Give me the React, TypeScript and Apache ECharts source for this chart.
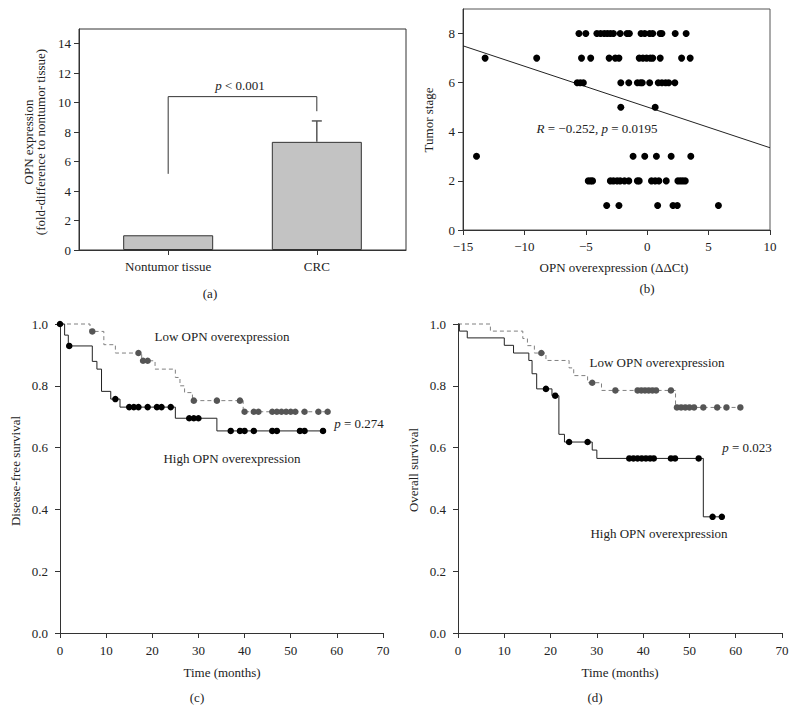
import React, { useEffect, useRef } from 'react';
import * as echarts from 'echarts';

const FONT = '"Liberation Serif", "DejaVu Serif", "Times New Roman", serif';

// ---------- Panel (a): bar chart ----------
const barCategories = ['Nontumor tissue', 'CRC'];
const barValues = [1.0, 7.34];
const barErrorTop = [1.0, 8.76];
const barYTicks = [0, 2, 4, 6, 8, 10, 12, 14];
const bracketX = [0, 0, 1, 1];
const bracketY = [5.17, 10.41, 10.41, 9.42];

// ---------- Panel (b): scatter ----------
const stage8X = [-5.56, -5.0, -4.1, -3.8, -3.5, -3.25, -3.0, -2.75, -2.2, -1.65, -1.45, -0.5, -0.2, 0.2, 0.45, 1.05, 1.2, 2.28, 3.17];
const stage7X = [-13.2, -9.0, -5.35, -4.6, -3.1, -2.6, -2.3, -0.65, -0.35, -0.05, 0.25, 0.45, 1.06, 2.8, 3.5];
const stage6X = [-5.7, -5.45, -5.2, -2.15, -1.5, -0.8, -0.55, -0.4, 0.2, 0.9, 1.2, 1.5, 1.75, 2.25];
const stage5X = [-2.15, 0.65];
const stage3X = [-13.9, -1.15, -0.2, 0.75, 1.95, 3.55];
const stage2X = [-4.8, -4.6, -4.45, -3.0, -2.75, -2.45, -2.2, -1.85, -1.5, -0.8, -0.65, 0.35, 0.65, 0.95, 1.55, 2.5, 2.7, 2.9, 3.1];
const stage1X = [-3.3, -2.3, 0.85, 2.1, 2.45, 5.8];
const stageRows: [number, number[]][] = [[8, stage8X], [7, stage7X], [6, stage6X], [5, stage5X], [3, stage3X], [2, stage2X], [1, stage1X]];
const regressionX = [-15, 10];
const regressionY = [7.5, 3.35];
const stageTicks = [0, 2, 4, 6, 8];

// ---------- Panel (c): disease-free survival ----------
const dfsHighSteps: [number, number][] = [[0, 1], [1, 0.964], [1.8, 0.929], [7, 0.879], [8, 0.854], [9, 0.782], [11, 0.757], [13, 0.731], [25, 0.695], [34, 0.654]];
const dfsHighCensor = [0, 2, 12, 15, 16, 17, 19, 21, 22, 24, 28, 29, 30, 37, 39, 40, 42, 46, 47, 52, 53, 57];
const dfsLowSteps: [number, number][] = [[0, 1], [6.5, 0.976], [9.5, 0.933], [12, 0.906], [17.7, 0.881], [20.6, 0.854], [25, 0.827], [26, 0.8], [27, 0.778], [28.7, 0.752], [39.7, 0.716]];
const dfsLowCensor = [7, 17, 18, 19, 29, 34, 39, 40, 42, 43, 46, 47, 48, 49, 50, 51, 53, 56, 58];

// ---------- Panel (d): overall survival ----------
const osHighSteps: [number, number][] = [[0, 1], [0.3, 0.977], [2, 0.955], [10, 0.931], [12, 0.906], [15.3, 0.882], [16, 0.839], [17, 0.79], [20.3, 0.768], [21.8, 0.643], [23, 0.618], [29, 0.592], [30, 0.565], [53, 0.376]];
const osHighCensor = [19, 21, 24, 28, 37, 37.9, 38.8, 39.7, 40.6, 41.5, 42.3, 46, 46.9, 52, 55, 57];
const osLowSteps: [number, number][] = [[0, 1], [7, 0.977], [14, 0.953], [15, 0.93], [16.5, 0.906], [19, 0.882], [24, 0.858], [25, 0.833], [28, 0.81], [31, 0.785], [47, 0.73]];
const osLowCensor = [18, 29, 34, 38.8, 39.6, 40.4, 41.2, 42, 42.8, 46, 47.3, 48.2, 49.1, 50, 51, 53, 56, 58, 61];

const survivalAt = (steps: [number, number][], t: number) => {
  let s = steps[0][1];
  for (const [time, v] of steps) if (time <= t) s = v;
  return s;
};
const stepLine = (steps: [number, number][], censor: number[]) => {
  const last = Math.max(...censor);
  return [...steps, [last, survivalAt(steps, last)]];
};
const censorPts = (steps: [number, number][], censor: number[]) => censor.map((t) => [t, survivalAt(steps, t)]);

const DARK = '#222';
const AXIS = '#333';
const GRAYLINE = '#808080';
const GRAYDOT = '#555';

const labelStyle = { fontFamily: FONT, fontSize: 13, color: DARK };

const txt = (x: number, y: number, text: string, rotation = 0) => ({
  type: 'text',
  x,
  y,
  rotation,
  silent: true,
  style: {
    text,
    fill: DARK,
    fontFamily: FONT,
    fontSize: 13,
    lineHeight: 12,
    align: 'center',
    verticalAlign: 'middle',
    rich: { i: { fontStyle: 'italic', fontFamily: FONT, fontSize: 13, fill: DARK } },
  },
});

const kmXAxis = (gridIndex: number) => ({
  gridIndex,
  type: 'value',
  min: 0,
  max: 70,
  interval: 10,
  splitLine: { show: false },
  axisLine: { show: true, onZero: false, lineStyle: { color: AXIS, width: 1 } },
  axisTick: { show: true, length: 5, lineStyle: { color: AXIS } },
  axisLabel: { ...labelStyle, margin: 11 },
});
const kmYAxis = (gridIndex: number) => ({
  gridIndex,
  type: 'value',
  min: 0,
  max: 1,
  interval: 0.2,
  splitLine: { show: false },
  axisLine: { show: true, onZero: false, lineStyle: { color: AXIS, width: 1 } },
  axisTick: { show: true, length: 5, lineStyle: { color: AXIS } },
  axisLabel: { ...labelStyle, margin: 12, formatter: (v: number) => v.toFixed(1) },
});

const kmSeries = (idx: number, steps: [number, number][], censor: number[], low: boolean) => [
  {
    type: 'line',
    xAxisIndex: idx,
    yAxisIndex: idx,
    step: 'end',
    symbol: 'none',
    clip: false,
    data: stepLine(steps, censor),
    lineStyle: low ? { color: GRAYLINE, width: 1, type: [4, 3] } : { color: DARK, width: 1 },
    z: 2,
  },
  {
    type: 'scatter',
    xAxisIndex: idx,
    yAxisIndex: idx,
    symbol: 'circle',
    symbolSize: 6.5,
    clip: false,
    data: censorPts(steps, censor),
    itemStyle: { color: low ? GRAYDOT : '#000', opacity: 1 },
    z: 3,
  },
];

export default function App() {
  const ref = useRef<HTMLDivElement>(null);
  useEffect(() => {
    document.body.style.margin = '0';
    if (!ref.current) return;
    const chart = echarts.init(ref.current, undefined, { renderer: 'svg' });
    const option: any = {
      animation: false,
      backgroundColor: '#ffffff',
      textStyle: { fontFamily: FONT },
      grid: [
        { left: 79, top: 29, width: 327, height: 221, show: true, borderColor: AXIS, borderWidth: 1, outerBoundsMode: 'none' },
        { left: 463, top: 9, width: 307, height: 221, show: true, borderColor: '#555', borderWidth: 1, outerBoundsMode: 'none' },
        { left: 60, top: 324, width: 323, height: 309, outerBoundsMode: 'none' },
        { left: 458, top: 324, width: 324, height: 309, outerBoundsMode: 'none' },
      ],
      xAxis: [
        {
          gridIndex: 0,
          type: 'value',
          min: -0.6,
          max: 1.6,
          splitLine: { show: false },
          axisLine: { show: true, onZero: false, lineStyle: { color: AXIS } },
          axisTick: { show: true, length: 5, customValues: [0, 1], lineStyle: { color: AXIS } },
          axisLabel: { ...labelStyle, margin: 10, customValues: [0, 1], formatter: (v: number) => barCategories[Math.round(v)] ?? '' },
        },
        {
          gridIndex: 1,
          type: 'value',
          min: -15,
          max: 10,
          interval: 5,
          splitLine: { show: false },
          axisLine: { show: true, onZero: false, lineStyle: { color: AXIS } },
          axisTick: { show: true, length: 5, lineStyle: { color: AXIS } },
          axisLabel: { ...labelStyle, margin: 10, formatter: (v: number) => String(v).replace('-', '\u2212') },
        },
        kmXAxis(2),
        kmXAxis(3),
      ],
      yAxis: [
        {
          gridIndex: 0,
          type: 'value',
          min: 0,
          max: 15,
          splitLine: { show: false },
          axisLine: { show: true, onZero: false, lineStyle: { color: AXIS } },
          axisTick: { show: true, length: 5, customValues: barYTicks, lineStyle: { color: AXIS } },
          axisLabel: { ...labelStyle, margin: 8, customValues: barYTicks },
        },
        {
          gridIndex: 1,
          type: 'value',
          min: 0,
          max: 9,
          splitLine: { show: false },
          axisLine: { show: true, onZero: false, lineStyle: { color: AXIS } },
          axisTick: { show: true, length: 5, customValues: stageTicks, lineStyle: { color: AXIS } },
          axisLabel: { ...labelStyle, margin: 8, customValues: stageTicks },
        },
        kmYAxis(2),
        kmYAxis(3),
      ],
      series: [
        {
          type: 'bar',
          xAxisIndex: 0,
          yAxisIndex: 0,
          barWidth: 90,
          data: barValues.map((v, i) => [i, v]),
          itemStyle: { color: '#c3c3c3', borderColor: AXIS, borderWidth: 1 },
          z: 2,
        },
        {
          type: 'custom',
          xAxisIndex: 0,
          yAxisIndex: 0,
          z: 3,
          data: barValues.map((v, i) => [i, v, barErrorTop[i]]).filter((d) => d[2] > d[1]),
          encode: { x: 0, y: [1, 2] },
          renderItem: (params: any, api: any) => {
            const p1 = api.coord([api.value(0), api.value(1)]);
            const p2 = api.coord([api.value(0), api.value(2)]);
            const st = { stroke: '#555', lineWidth: 1.5 };
            return {
              type: 'group',
              children: [
                { type: 'line', shape: { x1: p1[0], y1: p1[1], x2: p2[0], y2: p2[1] }, style: st },
                { type: 'line', shape: { x1: p2[0] - 5, y1: p2[1], x2: p2[0] + 5, y2: p2[1] }, style: st },
              ],
            };
          },
        },
        {
          type: 'line',
          xAxisIndex: 0,
          yAxisIndex: 0,
          symbol: 'none',
          data: bracketX.map((x, i) => [x, bracketY[i]]),
          lineStyle: { color: AXIS, width: 1 },
        },
        {
          type: 'scatter',
          xAxisIndex: 1,
          yAxisIndex: 1,
          symbol: 'circle',
          symbolSize: 7,
          data: stageRows.flatMap(([stage, xs]) => xs.map((x) => [x, stage])),
          itemStyle: { color: '#000', opacity: 1 },
          z: 3,
        },
        {
          type: 'line',
          xAxisIndex: 1,
          yAxisIndex: 1,
          symbol: 'none',
          data: regressionX.map((x, i) => [x, regressionY[i]]),
          lineStyle: { color: DARK, width: 1 },
          z: 2,
        },
        ...kmSeries(2, dfsLowSteps, dfsLowCensor, true),
        ...kmSeries(2, dfsHighSteps, dfsHighCensor, false),
        ...kmSeries(3, osLowSteps, osLowCensor, true),
        ...kmSeries(3, osHighSteps, osHighCensor, false),
      ],
      graphic: [
        // panel (a)
        txt(34.5, 142, 'OPN expression\n(fold-difference to nontumor tissue)', Math.PI / 2),
        txt(240, 85, '{i|p} < 0.001'),
        txt(210, 293, '(a)'),
        // panel (b)
        txt(428, 120, 'Tumor stage', Math.PI / 2),
        txt(614, 267, 'OPN overexpression (\u0394\u0394Ct)'),
        txt(597, 128, '{i|R} = \u22120.252, {i|p} = 0.0195'),
        txt(647, 288, '(b)'),
        // panel (c)
        txt(15, 471, 'Disease-free survival', Math.PI / 2),
        txt(222, 672, 'Time (months)'),
        txt(197, 697, '(c)'),
        txt(222, 336, 'Low OPN overexpression'),
        txt(232, 458, 'High OPN overexpression'),
        txt(359, 423, '{i|p} = 0.274'),
        // panel (d)
        txt(413, 470, 'Overall survival', Math.PI / 2),
        txt(620, 672, 'Time (months)'),
        txt(595, 697, '(d)'),
        txt(657, 362, 'Low OPN overexpression'),
        txt(659, 533, 'High OPN overexpression'),
        txt(747, 447, '{i|p} = 0.023'),
      ],
    };
    chart.setOption(option);
    return () => chart.dispose();
  }, []);
  return <div ref={ref} style={{ width: 796, height: 712 }} />;
}
